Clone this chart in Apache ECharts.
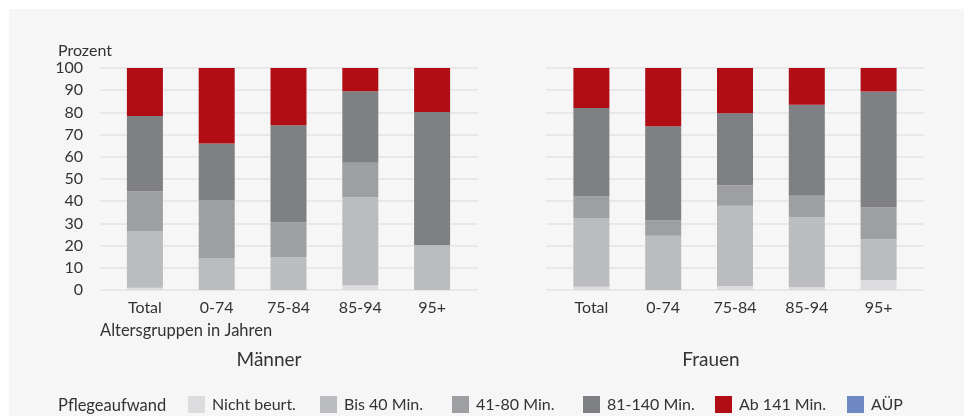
<!DOCTYPE html>
<html><head><meta charset="utf-8">
<script src="https://cdn.jsdelivr.net/npm/echarts@6/dist/echarts.min.js"></script>
<style>html,body{margin:0;padding:0;background:#fff}#c{width:964px;height:416px}</style>
</head><body><div id="c"></div>
<script>
const categories = ['Total', '0-74', '75-84', '85-94', '95+'];
const yTicks = [0, 10, 20, 30, 40, 50, 60, 70, 80, 90, 100];
const seriesNames = ['Nicht beurt.', 'Bis 40 Min.', '41-80 Min.', '81-140 Min.', 'Ab 141 Min.', 'AÜP'];
// Männer
const nichtM   = [1.0, 0, 0, 2.1, 0];
const bis40M   = [25.4, 14.2, 14.8, 39.7, 20.2];
const min41M   = [18.1, 26.1, 15.6, 15.5, 0];
const min81M   = [33.9, 25.7, 43.8, 32.2, 60.0];
const ab141M   = [21.6, 34.0, 25.8, 10.5, 19.8];
const auepM    = [0, 0, 0, 0, 0];
// Frauen
const nichtW   = [1.5, 0, 1.8, 1.3, 4.5];
const bis40W   = [30.9, 24.4, 36.1, 31.5, 18.4];
const min41W   = [9.7, 6.9, 9.3, 9.6, 14.4];
const min81W   = [39.9, 42.5, 32.4, 41.1, 52.1];
const ab141W   = [18.0, 26.2, 20.4, 16.5, 10.6];
const auepW    = [0, 0, 0, 0, 0];

const colors = ['#dcdcde', '#bbbcbf', '#9e9fa2', '#7f8083', '#b00d15', '#6f88c4'];
const FONT = 'Lato';
const TXT = '#333333';
const FS = 16;

const menData = [nichtM, bis40M, min41M, min81M, ab141M, auepM];
const womenData = [nichtW, bis40W, min41W, min81W, ab141W, auepW];

const chart = echarts.init(document.getElementById('c'));
const series = [];
menData.forEach((d, i) => series.push({
  name: seriesNames[i], type: 'bar', stack: 'm', xAxisIndex: 1, yAxisIndex: 1,
  barWidth: 36, data: d, itemStyle: { color: colors[i] }
}));
womenData.forEach((d, i) => series.push({
  name: seriesNames[i], type: 'bar', stack: 'w', xAxisIndex: 3, yAxisIndex: 3,
  barWidth: 36, data: d, itemStyle: { color: colors[i] }
}));

const gTop = 68, gH = 222;
const gridYAxis = (idx, showLabels) => ({
  type: 'value', gridIndex: idx, min: yTicks[0], max: yTicks[yTicks.length - 1], interval: 10,
  axisLine: { show: false }, axisTick: { show: false },
  axisLabel: { show: showLabels, color: TXT, fontFamily: FONT, fontSize: FS, margin: 17 },
  splitLine: { show: true, lineStyle: { color: '#e3e3e3', width: 1.5 } }
});
const barYAxis = (idx) => ({
  type: 'value', gridIndex: idx, min: 0, max: 100, show: false, splitLine: { show: false }
});
const hiddenX = (idx) => ({ type: 'category', gridIndex: idx, data: categories, show: false });
const barX = (idx) => ({
  type: 'category', gridIndex: idx, data: categories,
  axisLine: { show: false }, axisTick: { show: false },
  axisLabel: { color: TXT, fontFamily: FONT, fontSize: FS, margin: 10 }
});
const txt = (text, left, top, size, align) => ({
  text: text, left: left, top: top, padding: 0, textAlign: align || 'left',
  textStyle: { color: TXT, fontFamily: FONT, fontSize: size, fontWeight: 'normal' }
});
const legendLefts = [188, 320, 452, 583, 715, 847];
const legends = seriesNames.map((n, i) => ({
  data: [n], left: legendLefts[i], top: 396, itemWidth: 17, itemHeight: 17,
  icon: 'rect', padding: 0, selectedMode: false,
  textStyle: { color: TXT, fontFamily: FONT, fontSize: FS, padding: [0, 0, 0, 2] }
}));

chart.setOption({
  backgroundColor: '#ffffff',
  animation: false,
  graphic: [{ type: 'rect', z: -10, silent: true, shape: { x: 9, y: 9, width: 955, height: 407 }, style: { fill: '#f6f6f6' } }],
  title: [
    txt('Prozent', 58, 43, FS),
    txt('Altersgruppen in Jahren', 100, 322, 16.5),
    txt('Männer', 269, 350, 19, 'center'),
    txt('Frauen', 711, 350, 19, 'center'),
    txt('Pflegeaufwand', 58, 397, 16.5)
  ],
  legend: legends,
  grid: [
    { left: 100, top: gTop, width: 378, height: gH },
    { left: 109, top: gTop, width: 359, height: gH },
    { left: 546, top: gTop, width: 378, height: gH },
    { left: 555.5, top: gTop, width: 359, height: gH }
  ],
  xAxis: [hiddenX(0), barX(1), hiddenX(2), barX(3)],
  yAxis: [gridYAxis(0, true), barYAxis(1), gridYAxis(2, false), barYAxis(3)],
  series: series
});
</script></body></html>
